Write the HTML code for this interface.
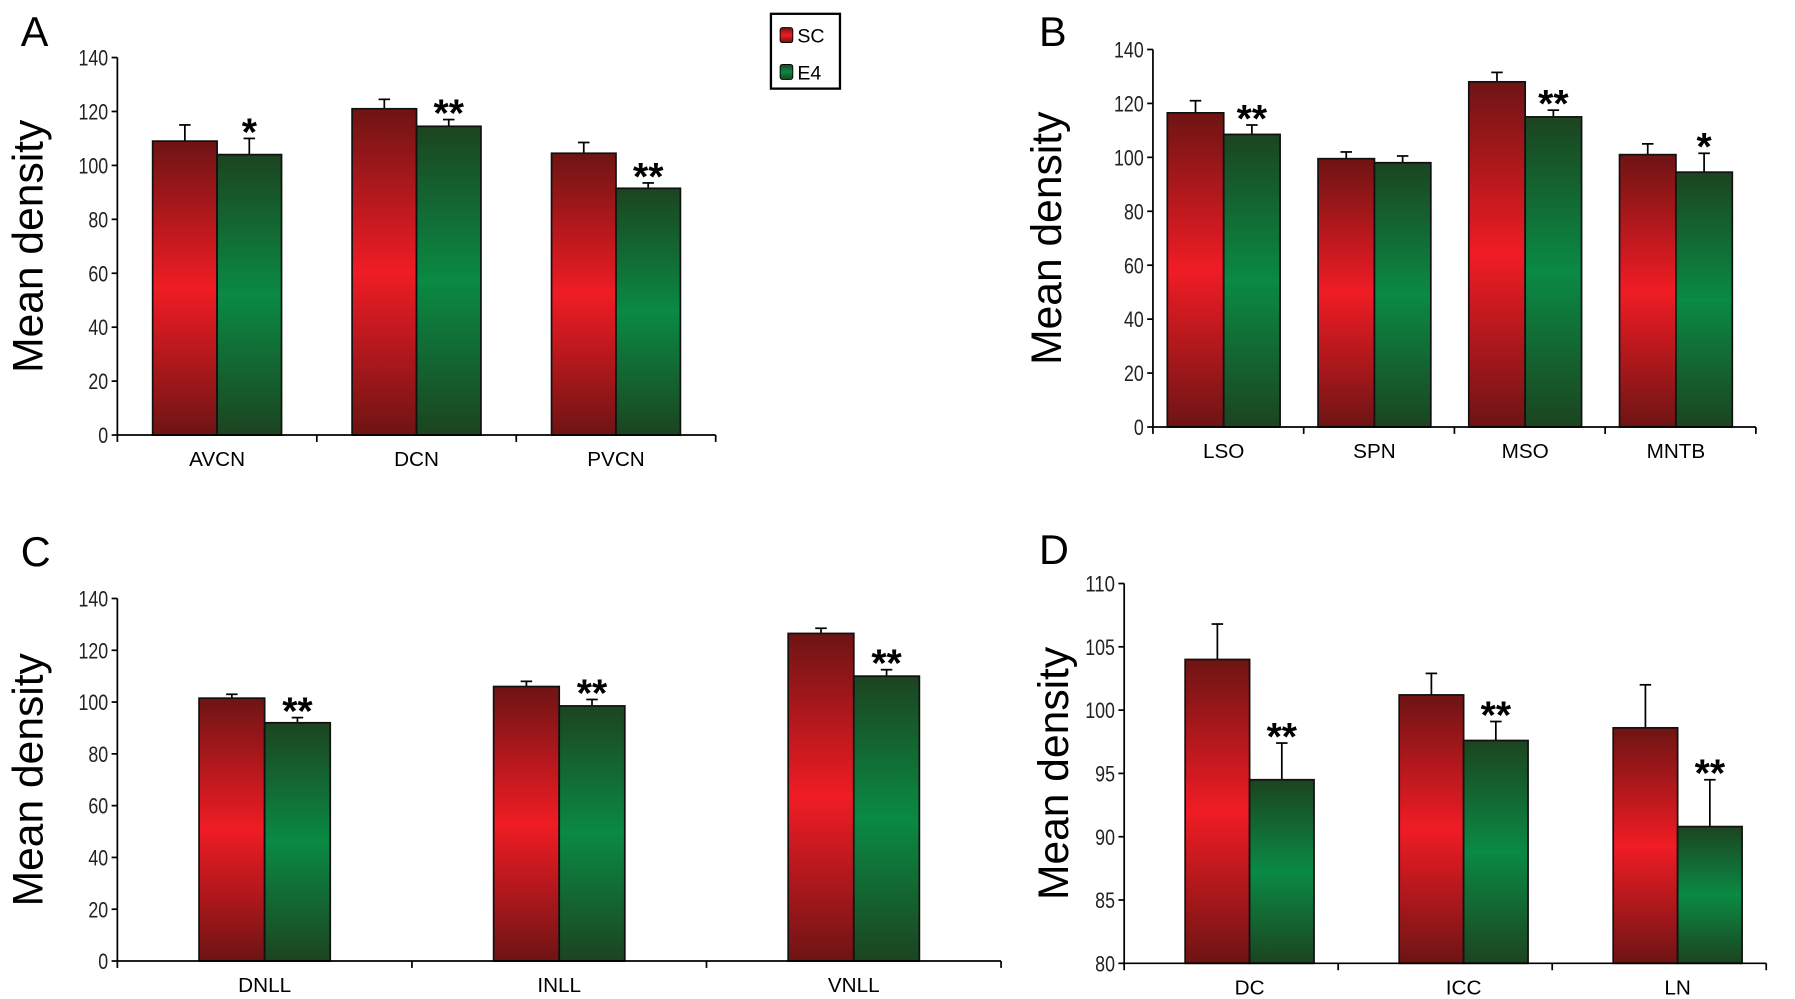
<!DOCTYPE html>
<html><head><meta charset="utf-8"><style>
html,body{margin:0;padding:0;background:#fff;}
svg{display:block;font-family:"Liberation Sans",Arial,sans-serif;}
</style></head><body>
<svg id="fig" width="1795" height="999" viewBox="0 0 1560 868" preserveAspectRatio="none" xmlns="http://www.w3.org/2000/svg">
<defs>
<linearGradient id="gr" x1="0" y1="0" x2="0" y2="1">
<stop offset="0" stop-color="#6e1414"/><stop offset="0.5" stop-color="#f01c24"/><stop offset="1" stop-color="#6e1414"/></linearGradient>
<linearGradient id="gg" x1="0" y1="0" x2="0" y2="1">
<stop offset="0" stop-color="#1c4420"/><stop offset="0.5" stop-color="#0a8a44"/><stop offset="1" stop-color="#1c4420"/></linearGradient>
</defs>
<g>
<rect x="670" y="12" width="60" height="65" fill="#fff" stroke="#000" stroke-width="2"/>
<rect x="678" y="24" width="11" height="13" rx="2" fill="url(#gr)" stroke="#000" stroke-width="0.8"/>
<text x="693" y="37" font-size="17">SC</text>
<rect x="678" y="56" width="11" height="13" rx="2" fill="url(#gg)" stroke="#000" stroke-width="0.8"/>
<text x="693" y="69" font-size="17">E4</text>
</g>
</svg>
<script>
const catsA=["AVCN","DCN","PVCN"];
const scA=[109,121,104.5];const scAErr=[6,3.5,4];
const e4A=[104,114.5,91.5];const e4AErr=[6,2.5,2];
const sigA=["*","**","**"];
const ticksA=[0,20,40,60,80,100,120,140];

const catsB=["LSO","SPN","MSO","MNTB"];
const scB=[116.5,99.5,128,101];const scBErr=[4.5,2.5,3.5,4];
const e4B=[108.5,98,115,94.5];const e4BErr=[3.5,2.5,2.5,7];
const sigB=["**","","**","*"];
const ticksB=[0,20,40,60,80,100,120,140];

const catsC=["DNLL","INLL","VNLL"];
const scC=[101.5,106,126.5];const scCErr=[1.5,2,2];
const e4C=[92,98.5,110];const e4CErr=[2,2.5,2.5];
const sigC=["**","**","**"];
const ticksC=[0,20,40,60,80,100,120,140];

const catsD=["DC","ICC","LN"];
const scD=[104,101.2,98.6];const scDErr=[2.8,1.7,3.4];
const e4D=[94.5,97.6,90.8];const e4DErr=[2.9,1.5,3.7];
const sigD=["**","**","**"];
const ticksD=[80,85,90,95,100,105,110];

const NS="http://www.w3.org/2000/svg";
const svg=document.getElementById('fig');
function mk(tag,attrs,parent){const e=document.createElementNS(NS,tag);for(const k in attrs)e.setAttribute(k,attrs[k]);(parent||svg).appendChild(e);return e;}

function panel(p){
  const g=mk('g',{});
  
  
  const lab=mk('text',{x:p.lx,y:p.ly,'font-size':36},g);lab.textContent=p.id;
  
  
  const ymin=p.ticks[0],ymax=p.ticks[p.ticks.length-1];
  const y=v=>p.y0-(v-ymin)/(ymax-ymin)*(p.y0-p.y1);
  const n=p.cats.length,gw=(p.x1-p.x0)/n;
  const off=p.off||0;
  const ya=mk('line',{x1:p.x0,y1:p.y1,x2:p.x0,y2:p.y0,stroke:'#000','stroke-width':1.5},g);
  
  p.ticks.forEach(t=>{
    mk('line',{x1:p.x0-5,y1:y(t),x2:p.x0,y2:y(t),stroke:'#000','stroke-width':1.5},g);
    const tl=mk('text',{x:p.x0-8,y:y(t)+7,'font-size':19,'text-anchor':'end',fill:'#222','textLength':String(t).length*8.6,'lengthAdjust':'spacingAndGlyphs'},g);
    tl.textContent=t;
    
  });
  const yt=mk('text',{x:0,y:0,'font-size':37,'text-anchor':'middle',transform:`translate(${p.tx},${(p.y0+p.y1)/2}) rotate(-90)`},g);
  yt.textContent='Mean density';
  
  const bw=p.bw;
  p.cats.forEach((c,i)=>{
    const gx=p.x0+i*gw, cx=gx+gw/2+off;
    const vals=[[p.sc[i],p.scE[i],'url(#gr)','sc'],[p.e4[i],p.e4E[i],'url(#gg)','e4']];
    vals.forEach((v,j)=>{
      const bx=j===0?cx-bw:cx;
      const eb=mk('line',{x1:bx+bw/2,y1:y(v[0]),x2:bx+bw/2,y2:y(v[0]+v[1]),stroke:'#000','stroke-width':1.5},g);
      
      mk('line',{x1:bx+bw/2-5,y1:y(v[0]+v[1]),x2:bx+bw/2+5,y2:y(v[0]+v[1]),stroke:'#000','stroke-width':1.5},g);
      const r=mk('rect',{x:bx,y:y(v[0]),width:bw,height:p.y0-y(v[0]),fill:v[2],stroke:'#111','stroke-width':1.5},g);
      
      
    });
    if(p.sig[i]){
      const s=mk('text',{x:cx+bw/2,y:y(p.e4[i]+p.e4E[i])+6,'font-size':34,'font-weight':'bold','text-anchor':'middle'},g);
      s.textContent=p.sig[i];
      
    }
    const cl=mk('text',{x:cx,y:p.y0+27,'font-size':18,'text-anchor':'middle'},g);
    cl.textContent=c;
    
  });
  const xa=mk('line',{x1:p.x0,y1:p.y0,x2:p.x1,y2:p.y0,stroke:'#000','stroke-width':1.5},g);
  
  for(let i=0;i<=n;i++)mk('line',{x1:p.x0+i*gw,y1:p.y0,x2:p.x0+i*gw,y2:p.y0+6,stroke:'#000','stroke-width':1.5},g);
}
panel({id:'A',lx:18,ly:40,x0:102,x1:622,y0:378,y1:50,tx:37,cats:catsA,sc:scA,scE:scAErr,e4:e4A,e4E:e4AErr,sig:sigA,ticks:ticksA,bw:56});
panel({id:'B',lx:903,ly:40,x0:1002,x1:1526,y0:371,y1:43,tx:922,cats:catsB,sc:scB,scE:scBErr,e4:e4B,e4E:e4BErr,sig:sigB,ticks:ticksB,bw:49,off:-4});
panel({id:'C',lx:18,ly:492,x0:102,x1:870,y0:835,y1:520,tx:37,cats:catsC,sc:scC,scE:scCErr,e4:e4C,e4E:e4CErr,sig:sigC,ticks:ticksC,bw:57});
panel({id:'D',lx:903,ly:490,x0:977,x1:1535,y0:837,y1:507,tx:928,cats:catsD,sc:scD,scE:scDErr,e4:e4D,e4E:e4DErr,sig:sigD,ticks:ticksD,bw:56,off:16});
</script>
</body></html>
